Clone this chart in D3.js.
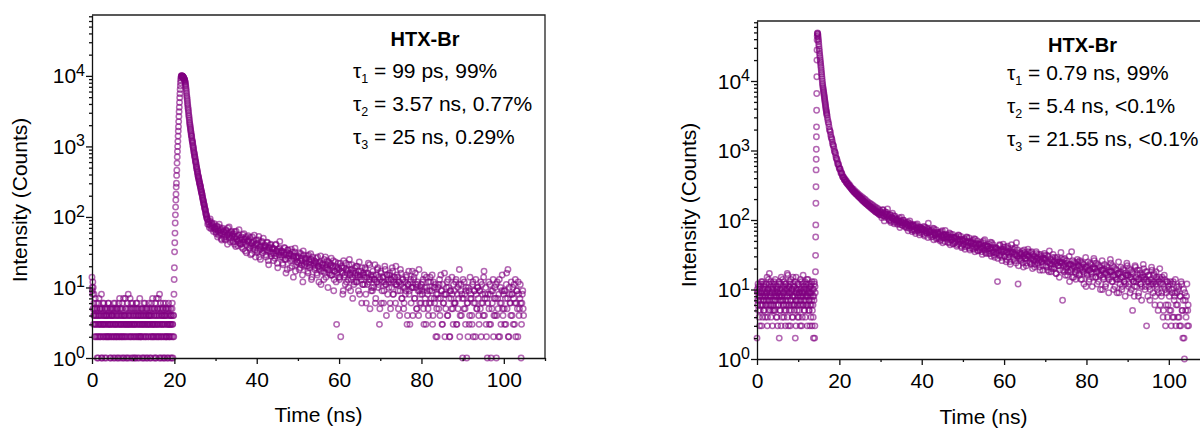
<!DOCTYPE html>
<html>
<head>
<meta charset="utf-8">
<script src="https://cdn.jsdelivr.net/npm/d3@7"></script>
<style>
  html, body { margin: 0; padding: 0; background: #fff; }
  svg { display: block; font-family: "Liberation Sans", Arial, Helvetica, sans-serif; }
</style>
</head>
<body>
<svg id="chart" width="1200" height="430"></svg>
<script>
// ---------------- axis ticks ----------------
const xTicks = [0, 20, 40, 60, 80, 100];
const xMinorTicks = [10, 30, 50, 70, 90, 110];
const yDecades = [0, 1, 2, 3, 4];
const xDomain = [0, 110];
const yDomain = [1, 73000];

// ---------------- labels ----------------
const xTitle = "Time (ns)";
const yTitle = "Intensity (Counts)";
const sampleName = "HTX-Br";
const leftFitIndex = ["1", "2", "3"];
const leftFitText = ["99 ps, 99%", "3.57 ns, 0.77%", "25 ns, 0.29%"];
const rightFitIndex = ["1", "2", "3"];
const rightFitText = ["0.79 ns, 99%", "5.4 ns, <0.1%", "21.55 ns, <0.1%"];

// ---------------- left decay (counts per channel) ----------------
// Each block lists counts of consecutive channels; even and odd channels
// are kept in separate blocks (A / B) that interleave on the time axis.

// background before the pulse
const leftBaselineAStart = 0, leftBaselineAStep = 0.1;
const leftBaselineA = [
  14, 9, 12, 10, 4, 8, 5, 3, 7, 2,
  4, 6, 2, 5, 3, 1, 4, 7, 3, 5,
  2, 4, 3, 8, 1, 5, 3, 2, 4, 6,
  3, 1, 5, 4, 2, 3, 4, 2, 5, 3,
  6, 2, 4, 3, 1, 3, 5, 2, 4, 4,
  3, 5, 1, 2, 4, 3, 6, 3, 2, 5,
  4, 2, 3, 5, 1, 4, 3, 7, 2, 3,
  5, 3, 2, 4, 6, 1, 3, 4, 2, 3,
  4, 7, 3, 2, 5, 3, 1, 4, 8, 3,
  2, 4, 3, 5, 2, 6, 3, 1, 4, 3,
  5, 2, 3, 4, 1, 3, 2, 5, 4, 6,
  3, 1, 4, 2, 5, 3, 7, 2, 4, 3,
  2, 5, 3, 4, 1, 3, 6, 2, 4, 5,
  3, 2, 4, 1, 5, 3, 2, 4, 6, 3,
  4, 3, 1, 5, 2, 4, 3, 7, 2, 3,
  5, 2, 4, 3, 6, 1, 3, 2, 4, 5,
  3, 7, 2, 4, 8, 3, 1, 5, 2, 4,
  3, 5, 2, 6, 4, 1, 3, 4, 2, 5,
  4, 2, 3, 1, 5, 3, 6, 2, 4, 3,
  2, 5, 3, 4, 1, 6, 3, 2, 4
];
const leftBaselineBStart = 0.05, leftBaselineBStep = 0.1;
const leftBaselineB = [
  10, 8, 5, 3, 6, 4, 2, 5, 3, 4,
  3, 5, 1, 4, 2, 6, 3, 2, 4, 5,
  3, 2, 5, 1, 4, 3, 6, 2, 3, 4,
  5, 2, 3, 4, 1, 5, 2, 4, 3, 6,
  2, 4, 3, 5, 2, 1, 4, 3, 5, 2,
  4, 3, 6, 2, 5, 1, 3, 4, 2, 3,
  5, 1, 4, 2, 3, 6, 2, 5, 4, 1,
  3, 4, 2, 5, 3, 2, 7, 1, 4, 3,
  2, 5, 4, 1, 3, 6, 2, 3, 5, 4,
  1, 3, 7, 2, 4, 3, 5, 2, 6, 1,
  4, 3, 2, 5, 3, 1, 4, 6, 2, 3,
  5, 2, 4, 3, 1, 4, 2, 3, 5, 2,
  4, 1, 3, 5, 2, 4, 3, 1, 6, 3,
  2, 4, 5, 3, 1, 3, 4, 2, 5, 4,
  3, 1, 2, 4, 6, 3, 5, 2, 3, 1,
  4, 3, 5, 2, 1, 4, 7, 3, 2, 5,
  3, 4, 2, 1, 5, 3, 6, 2, 4, 3,
  1, 4, 3, 5, 2, 3, 1, 4, 6, 2,
  5, 3, 2, 4, 1, 3, 5, 2, 3, 4,
  1, 3, 4, 2, 5, 3, 1, 4, 2
];
// rising edge
const leftRiseStart = 19.9, leftRiseStep = 0.05;
const leftRise = [
  8, 13, 19, 32, 43, 59, 82, 107, 138, 174,
  210, 265, 300, 388, 460, 580, 710, 850, 1000, 1180,
  1400, 1650, 1900, 2250, 2650, 3100, 3600, 4200, 4900, 5600,
  6400, 7200, 8000, 8700, 9300, 9700, 9950, 10050
];
// fast decay after the peak
const leftDecayAStart = 21.85, leftDecayAStep = 0.1;
const leftDecayA = [
  10000, 9900, 9750, 9600, 9400, 9150, 8900, 8550, 8000, 7300,
  6500, 5700, 5000, 4400, 3850, 3400, 3000, 2650, 2350, 2100,
  1900, 1720, 1560, 1420, 1300, 1190, 1110, 1000, 920, 830,
  780, 720, 665, 610, 575, 520, 480, 450, 420, 380,
  365, 340, 318, 298, 280, 270, 245, 230, 218, 206,
  188, 176, 167, 153, 148, 136, 128, 122, 111, 106,
  100, 94
];
const leftDecayBStart = 21.9, leftDecayBStep = 0.1;
const leftDecayB = [
  10000, 9800, 9700, 9450, 9300, 9000, 8700, 8300, 7600, 6900,
  6100, 5300, 4700, 4100, 3600, 3200, 2800, 2500, 2200, 2000,
  1800, 1640, 1480, 1380, 1230, 1150, 1040, 960, 880, 810,
  745, 700, 635, 595, 540, 505, 470, 430, 400, 375,
  350, 330, 305, 292, 270, 255, 240, 224, 210, 196,
  184, 172, 160, 152, 141, 132, 127, 116, 109, 104,
  97
];
// slow tail
const leftTailAStart = 28, leftTailAStep = 0.2;
const leftTailA = [
  92, 84, 78, 88, 75, 81, 70, 77, 72, 66,
  68, 58, 74, 63, 55, 71, 60, 49, 66, 57,
  62, 52, 47, 64, 56, 70, 51, 59, 44, 61,
  54, 46, 58, 41, 52, 63, 48, 39, 55, 47,
  50, 42, 37, 56, 44, 48, 33, 52, 40, 46,
  45, 36, 51, 39, 30, 43, 38, 55, 34, 41,
  42, 33, 47, 27, 38, 35, 44, 31, 50, 36,
  39, 29, 34, 43, 24, 37, 32, 41, 28, 35,
  36, 30, 26, 40, 33, 22, 35, 29, 45, 31,
  33, 27, 21, 31, 36, 25, 29, 18, 34, 28,
  30, 24, 35, 20, 28, 26, 32, 17, 27, 23,
  28, 22, 31, 19, 26, 24, 12, 29, 21, 25,
  26, 20, 17, 29, 23, 21, 25, 14, 27, 22,
  24, 19, 22, 16, 27, 20, 18, 23, 11, 21,
  22, 17, 25, 19, 14, 21, 18, 23, 16, 20,
  21, 15, 19, 24, 13, 17, 20, 3, 16, 22,
  18, 14, 2, 20, 16, 9, 19, 15, 22, 12,
  17, 13, 21, 15, 9, 18, 14, 16, 11, 19,
  16, 12, 20, 14, 17, 8, 15, 13, 19, 11,
  15, 11, 18, 6, 14, 16, 12, 21, 13, 9,
  14, 17, 10, 13, 6, 15, 12, 19, 11, 3,
  13, 16, 9, 14, 6, 12, 18, 11, 15, 8,
  12, 15, 6, 13, 10, 17, 8, 14, 11, 20,
  11, 14, 5, 12, 9, 16, 7, 13, 10, 6,
  12, 9, 15, 4, 11, 8, 3, 13, 10, 17,
  10, 14, 7, 11, 5, 12, 9, 18, 6, 10,
  11, 8, 13, 3, 10, 6, 14, 9, 5, 12,
  9, 12, 7, 15, 4, 10, 6, 11, 8, 2,
  10, 5, 13, 7, 9, 3, 11, 6, 16, 8,
  8, 12, 4, 10, 2, 9, 7, 14, 5, 11,
  9, 6, 13, 3, 10, 7, 18, 4, 11, 8,
  1, 7, 12, 5, 9, 1, 6, 10, 3, 14,
  8, 4, 11, 2, 9, 6, 13, 5, 10, 7,
  3, 9, 12, 6, 8, 4, 17, 7, 10, 2,
  1, 8, 5, 11, 3, 9, 6, 13, 4, 10,
  7, 1, 12, 5, 8, 2, 10, 6, 15, 4,
  9, 3, 7, 11, 5, 18, 2, 8, 6, 12,
  4, 10, 7, 3, 13, 6, 9, 2, 8, 5,
  11, 1, 6, 9, 4
];
const leftTailBStart = 28.1, leftTailBStep = 0.2;
const leftTailB = [
  79, 86, 71, 94, 68, 83, 74, 62, 80, 69,
  61, 73, 52, 66, 79, 58, 64, 47, 69, 62,
  49, 60, 66, 53, 41, 58, 72, 55, 50, 63,
  57, 44, 51, 62, 38, 49, 53, 45, 66, 42,
  41, 52, 47, 35, 58, 43, 49, 31, 45, 54,
  48, 37, 29, 42, 52, 36, 45, 40, 27, 47,
  31, 42, 53, 34, 25, 39, 45, 37, 33, 40,
  38, 27, 44, 33, 21, 36, 40, 30, 37, 31,
  24, 35, 28, 41, 33, 19, 32, 36, 27, 29,
  33, 22, 29, 37, 25, 16, 31, 34, 26, 30,
  19, 29, 25, 32, 14, 28, 36, 21, 26, 23,
  27, 18, 24, 30, 21, 15, 33, 20, 26, 23,
  22, 28, 16, 25, 19, 30, 13, 24, 20, 21,
  18, 23, 26, 15, 20, 12, 22, 28, 17, 19,
  21, 13, 16, 27, 19, 24, 10, 18, 22, 15,
  26, 15, 20, 9, 17, 23, 12, 18, 19, 14,
  13, 22, 17, 19, 8, 24, 14, 11, 18, 16,
  18, 10, 25, 16, 13, 21, 7, 17, 12, 15,
  20, 12, 15, 9, 23, 14, 17, 6, 11, 16,
  14, 19, 8, 16, 11, 22, 13, 5, 15, 10,
  9, 15, 13, 21, 7, 12, 18, 10, 14, 5,
  17, 6, 12, 14, 9, 20, 11, 4, 15, 13,
  10, 16, 5, 13, 19, 8, 12, 14, 6, 11,
  15, 9, 12, 4, 18, 11, 7, 13, 5, 10,
  8, 14, 3, 11, 17, 9, 12, 6, 10, 4,
  13, 7, 16, 10, 5, 11, 4, 9, 8, 6,
  9, 12, 5, 15, 7, 3, 10, 8, 4, 6,
  14, 6, 9, 3, 12, 7, 10, 2, 5, 8,
  7, 11, 4, 15, 9, 3, 6, 8, 2, 5,
  10, 4, 13, 7, 2, 9, 5, 8, 3, 6,
  6, 12, 3, 8, 5, 11, 2, 9, 4, 7,
  13, 5, 8, 3, 10, 6, 2, 9, 4, 7,
  7, 3, 12, 6, 9, 2, 8, 5, 10, 4,
  9, 5, 2, 11, 6, 14, 4, 8, 3, 7,
  6, 12, 3, 8, 1, 5, 9, 2, 7, 4,
  11, 4, 7, 2, 13, 6, 3, 9, 5, 8,
  5, 9, 3, 16, 7, 2, 10, 6, 4, 8,
  8, 3, 11, 6, 2, 9, 5, 12, 4, 7,
  6, 3, 8, 5
];

// ---------------- right decay (counts per channel) ----------------
const rightBaselineAStart = 0, rightBaselineAStep = 0.1;
const rightBaselineA = [
  2, 9, 6, 11, 7, 4, 10, 8, 5, 12,
  7, 3, 9, 13, 6, 8, 5, 11, 7, 10,
  4, 8, 12, 6, 9, 3, 10, 7, 14, 5,
  17, 8, 6, 11, 4, 9, 7, 12, 5, 10,
  6, 13, 8, 5, 9, 7, 11, 4, 8, 10,
  3, 9, 6, 12, 2, 8, 10, 5, 7, 15,
  8, 4, 11, 7, 9, 6, 13, 5, 10, 3,
  7, 12, 6, 9, 4, 16, 8, 10, 5, 11,
  9, 3, 14, 7, 6, 10, 8, 4, 12, 6,
  11, 5, 8, 2, 9, 15, 7, 10, 6, 4,
  8, 12, 5, 9, 7, 3, 10, 6, 13, 8,
  4, 9, 16, 6, 11, 7, 5, 10, 8, 12,
  6, 10, 3, 8, 14, 7, 9, 5, 11, 6,
  9, 4, 12, 7, 3, 10, 6, 2, 8, 13,
  2, 11
];
const rightBaselineBStart = 0.05, rightBaselineBStep = 0.1;
const rightBaselineB = [
  10, 7, 12, 5, 9, 8, 3, 11, 6, 9,
  13, 6, 8, 4, 10, 7, 12, 5, 9, 8,
  6, 11, 7, 9, 15, 4, 8, 10, 6, 12,
  7, 9, 5, 13, 8, 6, 10, 3, 11, 7,
  9, 5, 12, 7, 14, 8, 6, 10, 4, 9,
  11, 6, 8, 13, 7, 5, 9, 12, 3, 8,
  10, 7, 14, 6, 9, 4, 11, 8, 12, 6,
  5, 10, 8, 17, 7, 11, 3, 9, 6, 13,
  7, 12, 5, 9, 10, 4, 8, 15, 6, 11,
  8, 6, 13, 7, 3, 10, 9, 5, 12, 7,
  10, 4, 9, 11, 6, 14, 8, 7, 3, 9,
  12, 6, 8, 10, 5, 9, 13, 4, 7, 11,
  8, 14, 6, 9, 12, 5, 10, 7, 3, 8,
  11, 6, 9, 13, 5, 8, 4, 10, 7, 12,
  3, 9
];
const rightRiseStart = 14.2, rightRiseStep = 0.025;
const rightRise = [
  18, 31, 57, 85, 174, 301, 526, 748, 1040, 1580,
  2190, 3800, 6600, 11500, 20000, 28000, 39000, 44000
];
const rightDecayStart = 14.65, rightDecayStep = 0.05;
const rightDecay = [
  48000, 49000, 48000, 45500, 42500, 39500, 37000, 34000, 31500, 29000,
  27000, 25000, 23300, 21800, 20300, 19000, 17800, 16600, 15500, 14400,
  13400, 12500, 11600, 10800, 10000, 9300, 8800, 8300, 7900, 7520,
  7160, 6820, 6490, 6180, 5880, 5600, 5330, 5080, 4830, 4600,
  4380, 4170, 3970, 3780, 3620, 3470, 3330
];
const rightShoulderAStart = 17, rightShoulderAStep = 0.2;
const rightShoulderA = [
  3200, 2740, 2420, 2010, 1850, 1570, 1440, 1230, 1150, 980,
  925, 790, 745, 640, 625, 548, 538, 472, 466, 418,
  415, 381, 386, 352, 360, 330, 335, 309, 314, 288,
  290, 268, 277, 252, 262, 241, 250, 229, 238, 219,
  226, 206, 217, 197, 208, 186, 199, 178, 189, 171,
  181, 163, 175, 157, 169, 152, 162, 146, 156, 141,
  150, 134, 145, 129, 138
];
const rightShoulderBStart = 17.1, rightShoulderBStep = 0.2;
const rightShoulderB = [
  2950, 2560, 2200, 1930, 1690, 1500, 1330, 1190, 1060, 950,
  860, 770, 700, 650, 585, 550, 505, 480, 440, 412,
  400, 377, 370, 347, 338, 322, 318, 300, 297, 282,
  275, 265, 256, 250, 241, 236, 230, 222, 218, 210,
  207, 200, 194, 190, 184, 180, 176, 171, 168, 163,
  161, 156, 153, 149, 146, 142, 140, 136, 133, 130,
  128, 126, 123, 120, 118
];
const rightTailAStart = 30, rightTailAStep = 0.2;
const rightTailA = [
  132, 118, 127, 141, 115, 124, 109, 130, 117, 121,
  112, 101, 119, 96, 108, 104, 115, 93, 106, 99,
  101, 90, 95, 108, 86, 97, 92, 83, 99, 88,
  91, 79, 87, 94, 82, 76, 89, 84, 72, 85,
  81, 74, 69, 85, 77, 72, 80, 66, 78, 73,
  76, 68, 73, 62, 79, 70, 65, 74, 90, 66,
  69, 61, 72, 58, 66, 75, 60, 64, 53, 67,
  63, 57, 66, 52, 60, 70, 55, 61, 49, 62,
  58, 53, 61, 47, 56, 63, 51, 57, 45, 55,
  55, 49, 58, 44, 52, 60, 48, 53, 42, 51,
  50, 45, 54, 41, 48, 56, 43, 49, 39, 47,
  48, 42, 51, 38, 45, 53, 40, 46, 36, 44,
  45, 39, 48, 35, 42, 50, 37, 43, 33, 41,
  42, 36, 45, 33, 39, 47, 34, 40, 31, 38,
  40, 34, 13, 37, 31, 43, 35, 29, 38, 45,
  36, 30, 41, 27, 34, 39, 32, 25, 35, 44,
  34, 29, 38, 26, 32, 47, 30, 12, 33, 28,
  32, 27, 36, 24, 30, 34, 28, 22, 31, 38,
  30, 25, 34, 23, 28, 32, 26, 21, 29, 35,
  28, 24, 32, 21, 27, 30, 25, 19, 28, 33,
  27, 22, 31, 19, 25, 36, 23, 18, 26, 29,
  25, 21, 29, 17, 24, 27, 22, 15, 25, 34,
  24, 7, 27, 18, 23, 20, 26, 16, 22, 30,
  23, 19, 35, 15, 22, 25, 18, 14, 21, 27,
  22, 17, 26, 14, 21, 24, 18, 12, 20, 29,
  21, 16, 25, 13, 19, 23, 17, 11, 20, 28,
  20, 15, 24, 12, 18, 22, 16, 10, 19, 26,
  19, 14, 23, 11, 17, 21, 15, 9, 18, 27,
  18, 13, 22, 10, 16, 20, 14, 9, 17, 25,
  17, 12, 21, 10, 15, 19, 13, 8, 16, 24,
  16, 11, 20, 9, 15, 18, 5, 13, 8, 22,
  15, 11, 19, 8, 14, 17, 12, 7, 15, 23,
  14, 10, 18, 3, 13, 16, 11, 7, 14, 21,
  13, 9, 17, 6, 12, 15, 10, 5, 13, 20,
  12, 8, 15, 4, 11, 14, 3, 9, 13, 6,
  10, 5, 13, 3, 9, 12, 4, 8, 14, 6,
  9, 4, 11, 3, 8, 13, 5, 2, 10, 1,
  7, 4, 12, 5, 3
];
const rightTailBStart = 30.1, rightTailBStep = 0.2;
const rightTailB = [
  125, 108, 139, 116, 97, 131, 120, 112, 144, 105,
  98, 117, 92, 109, 125, 101, 88, 113, 103, 95,
  87, 103, 96, 78, 92, 110, 84, 99, 90, 81,
  93, 77, 85, 70, 88, 97, 79, 83, 68, 86,
  71, 82, 64, 77, 88, 70, 75, 61, 79, 73,
  64, 74, 81, 59, 70, 66, 77, 56, 72, 68,
  70, 57, 63, 76, 52, 65, 61, 72, 55, 66,
  54, 64, 50, 68, 58, 47, 62, 56, 71, 57,
  60, 48, 55, 65, 44, 57, 52, 62, 46, 56,
  47, 56, 42, 53, 61, 45, 50, 58, 40, 52,
  44, 52, 38, 49, 57, 42, 47, 55, 37, 46,
  49, 39, 46, 54, 35, 44, 41, 50, 36, 45,
  37, 45, 40, 32, 47, 39, 52, 34, 42, 38,
  42, 33, 39, 48, 30, 37, 44, 35, 29, 40,
  33, 39, 28, 36, 44, 31, 37, 26, 35, 41,
  30, 37, 25, 34, 42, 29, 35, 23, 33, 39,
  35, 27, 32, 40, 24, 31, 37, 22, 30, 34,
  26, 33, 29, 21, 37, 28, 32, 24, 30, 35,
  31, 24, 28, 35, 20, 27, 30, 23, 26, 33,
  23, 29, 26, 19, 32, 25, 28, 22, 27, 31,
  28, 21, 25, 30, 18, 24, 27, 20, 23, 32,
  20, 26, 23, 17, 29, 22, 25, 19, 24, 28,
  25, 19, 22, 28, 16, 21, 24, 18, 23, 13,
  18, 23, 20, 26, 15, 21, 24, 17, 19, 25,
  22, 16, 20, 25, 14, 19, 23, 17, 21, 11,
  17, 22, 19, 14, 24, 18, 20, 15, 21, 26,
  20, 15, 18, 23, 13, 17, 21, 16, 19, 10,
  15, 20, 17, 12, 22, 16, 19, 14, 18, 24,
  18, 13, 16, 21, 11, 15, 19, 14, 17, 9,
  14, 18, 15, 11, 20, 13, 17, 12, 16, 22,
  16, 12, 15, 19, 10, 14, 17, 13, 11, 21,
  13, 17, 14, 9, 19, 12, 15, 11, 16, 20,
  15, 11, 14, 18, 8, 13, 16, 10, 12, 19,
  12, 16, 13, 8, 18, 11, 14, 9, 15, 6,
  14, 9, 12, 5, 16, 10, 6, 13, 4, 11,
  8, 12, 5, 10, 4, 13, 7, 9, 3, 11,
  6, 10, 4, 8, 3, 12, 5, 7, 2, 9,
  5, 8, 3, 6
];

// ---------------- drawing ----------------
const svg = d3.select("#chart");

// every block becomes a list of {t, c} points on the shared time axis
function toPoints(blocks) {
  return blocks.flatMap(([t0, dt, counts]) =>
    counts.map((c, i) => ({ t: t0 + i * dt, c }))
  ).filter(d => d.c > 0);
}

function superscriptLabel(sel, base, exp) {
  sel.append("tspan").text(base);
  sel.append("tspan").attr("font-size", 16).attr("dy", -7.5).text(exp);
}

function drawPanel(p, blocks, fitIndex, fitText) {
  const g = svg.append("g");
  const x = d3.scaleLinear().domain(xDomain).range([p.left, p.right]);
  const y = d3.scaleLog().domain(yDomain).range([p.bottom, p.top]);

  // photon counts: open circles
  g.append("g")
    .selectAll("circle")
    .data(toPoints(blocks))
    .join("circle")
    .attr("cx", d => x(d.t))
    .attr("cy", d => y(d.c))
    .attr("r", 2.7)
    .attr("fill", "none")
    .attr("stroke", "#800080")
    .attr("stroke-opacity", 0.6)
    .attr("stroke-width", 1.5);

  // top and right frame
  g.append("path")
    .attr("d", `M${p.left},${p.top}H${p.right}V${p.bottom}`)
    .attr("fill", "none")
    .attr("stroke", "#222")
    .attr("stroke-width", 1.3);

  // x axis, major + minor ticks
  const xa = g.append("g").attr("transform", `translate(0,${p.bottom})`);
  xa.call(d3.axisBottom(x).tickValues(xTicks).tickSizeInner(6).tickSizeOuter(0));
  xa.append("g").call(d3.axisBottom(x).tickValues(xMinorTicks).tickSizeInner(3).tickSizeOuter(0).tickFormat(""))
    .select(".domain").remove();
  xa.selectAll("text")
    .attr("y", p.xLabelBase - p.bottom).attr("dy", null)
    .attr("font-size", 21).attr("fill", "#000")
    .attr("font-family", "'Liberation Sans', Arial, sans-serif");

  // y axis (log), major decades + minor ticks
  const minor = [];
  yDecades.forEach(e => { for (let m = 2; m <= 9; m++) { const v = m * 10 ** e; if (v <= yDomain[1]) minor.push(v); } });
  const ya = g.append("g").attr("transform", `translate(${p.left},0)`);
  ya.call(d3.axisLeft(y).tickValues(yDecades.map(e => 10 ** e)).tickSizeInner(6).tickSizeOuter(0).tickFormat(""));
  ya.append("g").call(d3.axisLeft(y).tickValues(minor).tickSizeInner(3).tickSizeOuter(0).tickFormat(""))
    .select(".domain").remove();
  g.selectAll(".domain, .tick line").attr("stroke", "#111").attr("stroke-width", 1.3);

  yDecades.forEach(e => {
    const t = g.append("text")
      .attr("x", p.left - 7)
      .attr("y", y(10 ** e) + 7.5)
      .attr("text-anchor", "end")
      .attr("font-size", 21)
      .attr("fill", "#000");
    superscriptLabel(t, "10", String(e));
  });

  // axis titles
  g.append("text")
    .attr("x", (p.left + p.right) / 2)
    .attr("y", p.xTitleBase)
    .attr("text-anchor", "middle")
    .attr("font-size", 21)
    .text(xTitle);
  g.append("text")
    .attr("transform", `translate(${p.yTitleX},${p.yTitleY}) rotate(-90)`)
    .attr("text-anchor", "middle")
    .attr("font-size", 21)
    .text(yTitle);

  // sample name and lifetime fit results
  g.append("text")
    .attr("x", p.nameX)
    .attr("y", p.nameBase)
    .attr("text-anchor", "middle")
    .attr("font-size", 20)
    .attr("font-weight", "bold")
    .text(sampleName);
  fitIndex.forEach((k, i) => {
    const t = g.append("text")
      .attr("x", p.fitX)
      .attr("y", p.fitBase[i])
      .attr("font-size", 21);
    t.append("tspan").text("τ");
    t.append("tspan").attr("font-size", 12.5).attr("dy", 5).text(k);
    t.append("tspan").attr("dy", -5).text(" = " + fitText[i]);
  });
}

drawPanel(
  { left: 92, right: 545, top: 15, bottom: 358, xLabelBase: 387, xTitleBase: 422,
    yTitleX: 27, yTitleY: 200, nameX: 425, nameBase: 45.5, fitX: 353, fitBase: [78, 110.5, 144] },
  [[leftBaselineAStart, leftBaselineAStep, leftBaselineA],
   [leftBaselineBStart, leftBaselineBStep, leftBaselineB],
   [leftRiseStart, leftRiseStep, leftRise],
   [leftDecayAStart, leftDecayAStep, leftDecayA],
   [leftDecayBStart, leftDecayBStep, leftDecayB],
   [leftTailAStart, leftTailAStep, leftTailA],
   [leftTailBStart, leftTailBStep, leftTailB]],
  leftFitIndex, leftFitText
);

drawPanel(
  { left: 757, right: 1210, top: 21, bottom: 359, xLabelBase: 388, xTitleBase: 424,
    yTitleX: 696, yTitleY: 205, nameX: 1082.5, nameBase: 51.5, fitX: 1007, fitBase: [80, 112.5, 145.5] },
  [[rightBaselineAStart, rightBaselineAStep, rightBaselineA],
   [rightBaselineBStart, rightBaselineBStep, rightBaselineB],
   [rightRiseStart, rightRiseStep, rightRise],
   [rightDecayStart, rightDecayStep, rightDecay],
   [rightShoulderAStart, rightShoulderAStep, rightShoulderA],
   [rightShoulderBStart, rightShoulderBStep, rightShoulderB],
   [rightTailAStart, rightTailAStep, rightTailA],
   [rightTailBStart, rightTailBStep, rightTailB]],
  rightFitIndex, rightFitText
);
</script>
</body>
</html>
